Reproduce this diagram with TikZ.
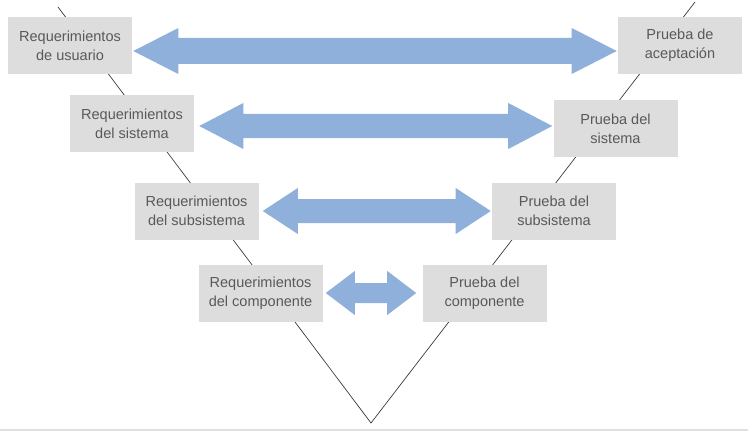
\documentclass[tikz,border=0pt]{standalone}
\usepackage{fontspec}
\setmainfont{Liberation Sans}
\usetikzlibrary{calc}
\definecolor{boxfill}{RGB}{221,221,221}
\definecolor{boxtext}{RGB}{89,89,89}
\definecolor{arrowfill}{RGB}{143,176,218}
\definecolor{rulegray}{RGB}{224,224,224}
\tikzset{
  stagebox/.style={fill=boxfill, draw=none, minimum width=93pt, minimum height=42.75pt,
    inner sep=0pt, align=center, text=boxtext, font=\fontsize{10.9}{14.4}\selectfont},
  vline/.style={draw=black!80, line width=0.5pt},
  blockarrow/.style={fill=arrowfill, draw=none},
  baserule/.style={draw=rulegray, line width=1.5pt},
}
\newcommand\barrow[5]{%
  \fill[blockarrow] (#1) -- ($(#1)+(#3,-#4)$) -- ($(#1)+(#3,-#5)$) -- ($(#2)+(-#3,-#5)$)
    -- ($(#2)+(-#3,-#4)$) -- (#2) -- ($(#2)+(-#3,#4)$) -- ($(#2)+(-#3,#5)$)
    -- ($(#1)+(#3,#5)$) -- ($(#1)+(#3,#4)$) -- cycle;}
\begin{document}
\begin{tikzpicture}[x=0.75pt,y=-0.75pt]
\useasboundingbox (0,0) rectangle (748,431);
% V lines
\coordinate (vtl) at (58,7);
\coordinate (vtr) at (695,2);
\coordinate (vbot) at (371,423);
\draw[vline] (vtl) -- (vbot) -- (vtr);
% bottom rule
\coordinate (bl) at (0,430);
\coordinate (br) at (748,430);
\draw[baserule] (bl) -- (br);
% boxes
\node[stagebox] (l1) at (70,46) {Requerimientos\\de usuario};
\node[stagebox] (l2) at (132,123.5) {Requerimientos\\del sistema};
\node[stagebox] (l3) at (196.5,211) {Requerimientos\\del subsistema};
\node[stagebox] (l4) at (260.5,293) {Requerimientos\\del componente};
\node[stagebox] (r1) at (680,45.5) {Prueba de\\aceptación};
\node[stagebox] (r2) at (615.5,128.5) {Prueba del\\sistema};
\node[stagebox] (r3) at (554,211) {Prueba del\\subsistema};
\node[stagebox] (r4) at (484.5,293) {Prueba del\\componente};
% arrow endpoints
\coordinate (a1l) at ($(l1.east|-0,51)+(1,0)$);
\coordinate (a1r) at ($(r1.west|-0,51)+(-1,0)$);
\coordinate (a2l) at ($(l2.east|-0,126)+(5,0)$);
\coordinate (a2r) at ($(r2.west|-0,126)+(-1,0)$);
\coordinate (a3l) at ($(l3.east|-0,211)+(4,0)$);
\coordinate (a3r) at ($(r3.west|-0,211)+(-1,0)$);
\coordinate (a4l) at ($(l4.east|-0,293)+(3,0)$);
\coordinate (a4r) at ($(r4.west|-0,293)+(-6,0)$);
\barrow{a1l}{a1r}{45}{23}{13}
\barrow{a2l}{a2r}{44}{23}{12}
\barrow{a3l}{a3r}{35}{23}{12}
\barrow{a4l}{a4r}{29}{22}{10}
\end{tikzpicture}
\end{document}
